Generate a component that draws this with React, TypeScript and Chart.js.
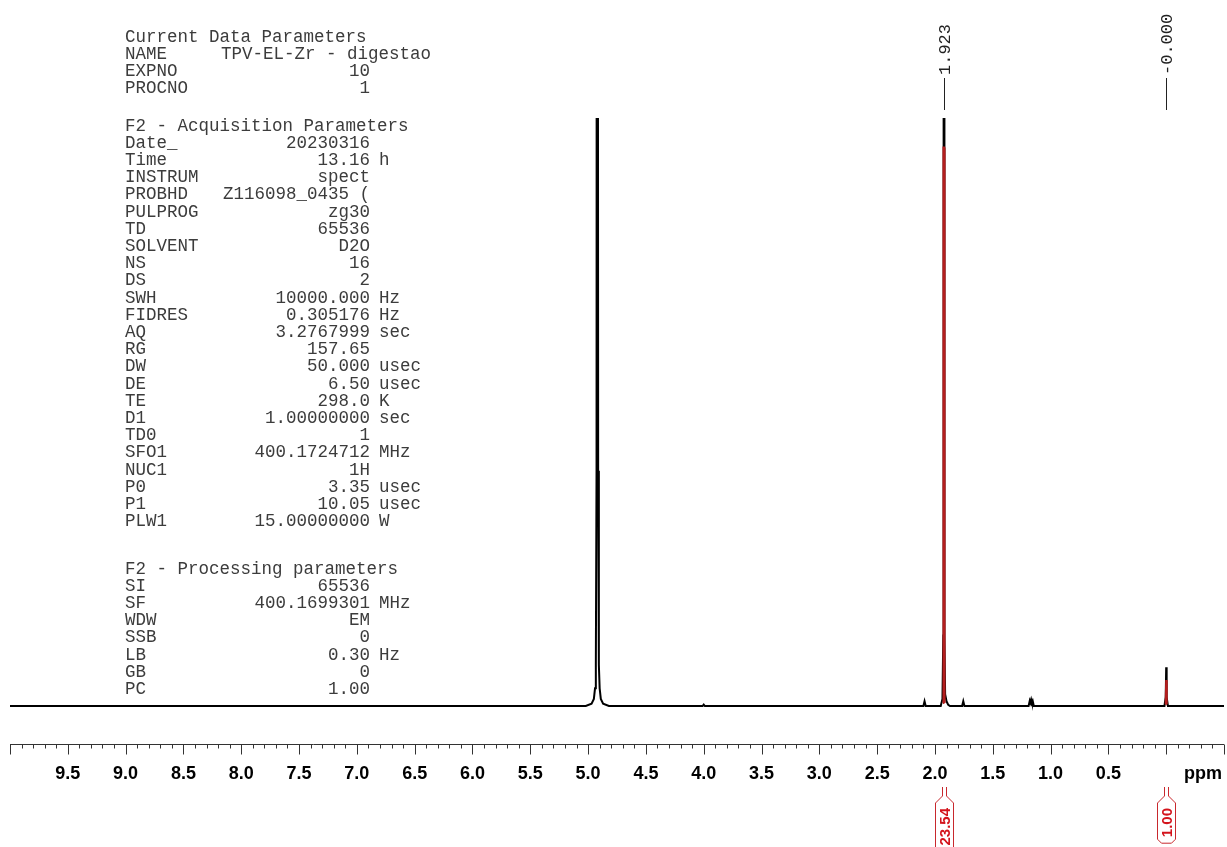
import React, { useEffect, useRef } from 'react';
import { Chart, registerables } from 'chart.js';

Chart.register(...registerables);

// ---------- axis range (ppm, reversed) ----------
const PPM_LEFT = 10.0;
const PPM_RIGHT = -0.5;
const Y_TOP = 100;
const Y_BOTTOM = -6.46;

// ---------- spectrum (black trace) ----------
const spectrumPpm = [
  10.0, 5.02, 4.97, 4.95, 4.94, 4.933, 4.927, 4.922, 4.918, 4.913, 4.907, 4.9, 4.89, 4.87, 4.82,
  4.01, 4.0, 3.99,
  2.1, 2.09, 2.08,
  1.95, 1.935, 1.928, 1.925, 1.921, 1.918, 1.912, 1.9, 1.885, 1.87,
  1.765, 1.755, 1.745,
  1.19, 1.18, 1.175, 1.168, 1.162, 1.155, 1.145,
  0.015, 0.004, 0.0, -0.004, -0.015,
  -0.5,
];
const spectrumIntensity = [
  0, 0, 0.4, 1.2, 3.0, 7, 40, 400, 400, 40, 7, 3.0, 1.2, 0.4, 0,
  0, 0.25, 0,
  0, 0.8, 0,
  0, 1.2, 12, 142, 142, 12, 2.0, 0.8, 0.2, 0,
  0, 0.8, 0,
  0, 0.9, 0.6, 1.1, 0.6, 0.9, 0,
  0, 1.5, 6.6, 1.5, 0,
  0,
];

// ---------- integral regions (red overlay) ----------
const integralPpm = [1.93, 1.928, 1.925, 1.921, 1.918, 1.915, null, 0.006, 0.004, 0.0, -0.004, -0.006];
const integralIntensity = [0.5, 8, 95, 95, 8, 0.5, null, 0.3, 1.0, 4.4, 1.0, 0.3];

// ---------- peak picking labels ----------
const peakLabelPpm = [1.923, 0.0];
const peakLabelText = ['1.923', '-0.000'];

// ---------- integral labels ----------
const integralLabelPpm = [1.923, 0.0];
const integralLabelText = ['23.54', '1.00'];

// ---------- axis tick labels ----------
const tickLabelPpm = [9.5, 9.0, 8.5, 8.0, 7.5, 7.0, 6.5, 6.0, 5.5, 5.0, 4.5, 4.0, 3.5, 3.0, 2.5, 2.0, 1.5, 1.0, 0.5];
const tickLabelText = ['9.5', '9.0', '8.5', '8.0', '7.5', '7.0', '6.5', '6.0', '5.5', '5.0', '4.5', '4.0', '3.5', '3.0', '2.5', '2.0', '1.5', '1.0', '0.5'];
const axisUnit = 'ppm';

// ---------- parameter text block ----------
const paramGroup1Title = 'Current Data Parameters';
const paramGroup1Labels = ['NAME', 'EXPNO', 'PROCNO'];
const paramGroup1Values = ['TPV-EL-Zr - digestao', '10', '1'];
const paramGroup1Units = ['', '', ''];

const paramGroup2Title = 'F2 - Acquisition Parameters';
const paramGroup2Labels = ['Date_', 'Time', 'INSTRUM', 'PROBHD', 'PULPROG', 'TD', 'SOLVENT', 'NS', 'DS', 'SWH', 'FIDRES', 'AQ', 'RG', 'DW', 'DE', 'TE', 'D1', 'TD0', 'SFO1', 'NUC1', 'P0', 'P1', 'PLW1'];
const paramGroup2Values = ['20230316', '13.16', 'spect', 'Z116098_0435 (', 'zg30', '65536', 'D2O', '16', '2', '10000.000', '0.305176', '3.2767999', '157.65', '50.000', '6.50', '298.0', '1.00000000', '1', '400.1724712', '1H', '3.35', '10.05', '15.00000000'];
const paramGroup2Units = ['', 'h', '', '', '', '', '', '', '', 'Hz', 'Hz', 'sec', '', 'usec', 'usec', 'K', 'sec', '', 'MHz', '', 'usec', 'usec', 'W'];

const paramGroup3Title = 'F2 - Processing parameters';
const paramGroup3Labels = ['SI', 'SF', 'WDW', 'SSB', 'LB', 'GB', 'PC'];
const paramGroup3Values = ['65536', '400.1699301', 'EM', '0', '0.30', '0', '1.00'];
const paramGroup3Units = ['', 'MHz', '', '', 'Hz', '', ''];

const MONO = '"Liberation Mono", "DejaVu Sans Mono", monospace';
const SANS = '"Liberation Sans", Arial, sans-serif';

const overlayPlugin = {
  id: 'nmrOverlay',
  beforeDatasetsDraw(chart: any) {
    const ctx = chart.ctx as CanvasRenderingContext2D;
    ctx.save();
    ctx.font = `17.5px ${MONO}`;
    ctx.fillStyle = '#3c3c3c';
    ctx.textBaseline = 'middle';
    const labelX = 125;
    const valueRight = 370;
    const unitX = 379;
    const lh = 17.2;
    const drawGroup = (title: string, labels: string[], values: string[], units: string[], top: number, leftValue: boolean) => {
      ctx.textAlign = 'left';
      ctx.fillText(title, labelX, top);
      labels.forEach((lab, i) => {
        const y = top + (i + 1) * lh;
        ctx.textAlign = 'left';
        ctx.fillText(lab, labelX, y);
        if (leftValue && i === 0) {
          ctx.textAlign = 'left';
          ctx.fillText(values[i], 221, y);
        } else {
          ctx.textAlign = 'right';
          ctx.fillText(values[i], valueRight, y);
        }
        if (units[i]) {
          ctx.textAlign = 'left';
          ctx.fillText(units[i], unitX, y);
        }
      });
    };
    drawGroup(paramGroup1Title, paramGroup1Labels, paramGroup1Values, paramGroup1Units, 37, true);
    drawGroup(paramGroup2Title, paramGroup2Labels, paramGroup2Values, paramGroup2Units, 126, false);
    drawGroup(paramGroup3Title, paramGroup3Labels, paramGroup3Values, paramGroup3Units, 569, false);
    ctx.restore();
  },
  afterDraw(chart: any) {
    const ctx = chart.ctx as CanvasRenderingContext2D;
    const xs = chart.scales.x;
    ctx.save();

    // ---- ppm axis ----
    const axisY = 744.5;
    const xl = xs.getPixelForValue(PPM_LEFT);
    const xr = xs.getPixelForValue(PPM_RIGHT);
    ctx.strokeStyle = '#333';
    ctx.lineWidth = 1;
    ctx.beginPath();
    ctx.moveTo(xl, axisY);
    ctx.lineTo(xr, axisY);
    const nTicks = Math.round((PPM_LEFT - PPM_RIGHT) * 10);
    for (let i = 0; i <= nTicks; i++) {
      const v = PPM_LEFT - i / 10;
      const px = Math.round(xs.getPixelForValue(v)) + 0.5;
      const major = i % 5 === 0 || i === nTicks;
      ctx.moveTo(px, axisY);
      ctx.lineTo(px, axisY + (major ? 10 : 4));
    }
    ctx.stroke();

    ctx.fillStyle = '#000';
    ctx.font = `bold 18px ${SANS}`;
    ctx.textAlign = 'center';
    ctx.textBaseline = 'alphabetic';
    tickLabelPpm.forEach((v, i) => {
      ctx.fillText(tickLabelText[i], xs.getPixelForValue(v), 779);
    });
    ctx.fillText(axisUnit, 1203, 779);

    // ---- peak labels ----
    ctx.font = `17px ${MONO}`;
    ctx.fillStyle = '#222';
    ctx.strokeStyle = '#222';
    peakLabelPpm.forEach((v, i) => {
      const px = Math.round(xs.getPixelForValue(v)) + 0.5;
      ctx.beginPath();
      ctx.moveTo(px, 78);
      ctx.lineTo(px, 110);
      ctx.stroke();
      ctx.save();
      ctx.translate(px, 75);
      ctx.rotate(-Math.PI / 2);
      ctx.textAlign = 'left';
      ctx.textBaseline = 'middle';
      ctx.fillText(peakLabelText[i], 0, 1);
      ctx.restore();
    });

    // ---- integral labels ----
    ctx.font = `bold 15px ${SANS}`;
    integralLabelPpm.forEach((v, i) => {
      const cx = Math.round(xs.getPixelForValue(v)) + 0.5;
      const w = ctx.measureText(integralLabelText[i]).width;
      const top = 803;
      const bottom = top + 5 + w + 6;
      ctx.strokeStyle = '#c8282d';
      ctx.lineWidth = 1;
      ctx.beginPath();
      ctx.moveTo(cx - 2, 787);
      ctx.lineTo(cx - 2, 796);
      ctx.lineTo(cx - 9, top);
      ctx.lineTo(cx - 9, bottom - 4);
      ctx.lineTo(cx - 5, bottom);
      ctx.lineTo(cx + 5, bottom);
      ctx.lineTo(cx + 9, bottom - 4);
      ctx.lineTo(cx + 9, top);
      ctx.lineTo(cx + 2, 796);
      ctx.lineTo(cx + 2, 787);
      ctx.stroke();
      ctx.save();
      ctx.translate(cx, top + 5 + w / 2);
      ctx.rotate(-Math.PI / 2);
      ctx.fillStyle = '#d4141c';
      ctx.textAlign = 'center';
      ctx.textBaseline = 'middle';
      ctx.fillText(integralLabelText[i], 0, 1);
      ctx.restore();
    });
    ctx.restore();
  },
};

export default function App() {
  const canvasRef = useRef<HTMLCanvasElement | null>(null);

  useEffect(() => {
    document.body.style.margin = '0';
    document.body.style.overflow = 'hidden';
    const canvas = canvasRef.current;
    if (!canvas) return;
    const spectrum = spectrumPpm.map((p, i) => ({ x: p, y: spectrumIntensity[i] }));
    const integral = integralPpm.map((p, i) => ({ x: p as any, y: integralIntensity[i] as any }));
    const chart = new Chart(canvas, {
      type: 'line',
      data: {
        datasets: [
          {
            label: 'integral regions',
            data: integral,
            borderColor: '#b41e1e',
            borderWidth: 2,
            pointRadius: 0,
            tension: 0,
            spanGaps: false,
            fill: false,
          },
          {
            label: '1H spectrum',
            data: spectrum,
            borderColor: '#000000',
            borderWidth: 2,
            pointRadius: 0,
            tension: 0,
            fill: false,
          },
        ],
      },
      options: {
        responsive: false,
        maintainAspectRatio: false,
        devicePixelRatio: 1,
        animation: false,
        events: [],
        layout: { padding: { left: 10, right: 3, top: 118, bottom: 103 } },
        scales: {
          x: { type: 'linear', reverse: true, min: PPM_RIGHT, max: PPM_LEFT, display: false },
          y: { type: 'linear', min: Y_BOTTOM, max: Y_TOP, display: false },
        },
        plugins: { legend: { display: false }, tooltip: { enabled: false } },
      },
      plugins: [overlayPlugin],
    });
    return () => chart.destroy();
  }, []);

  return (
    <div style={{ width: 1227, height: 847, background: '#fff', overflow: 'hidden' }}>
      <canvas ref={canvasRef} width={1227} height={847} style={{ display: 'block', width: 1227, height: 847 }} />
    </div>
  );
}
